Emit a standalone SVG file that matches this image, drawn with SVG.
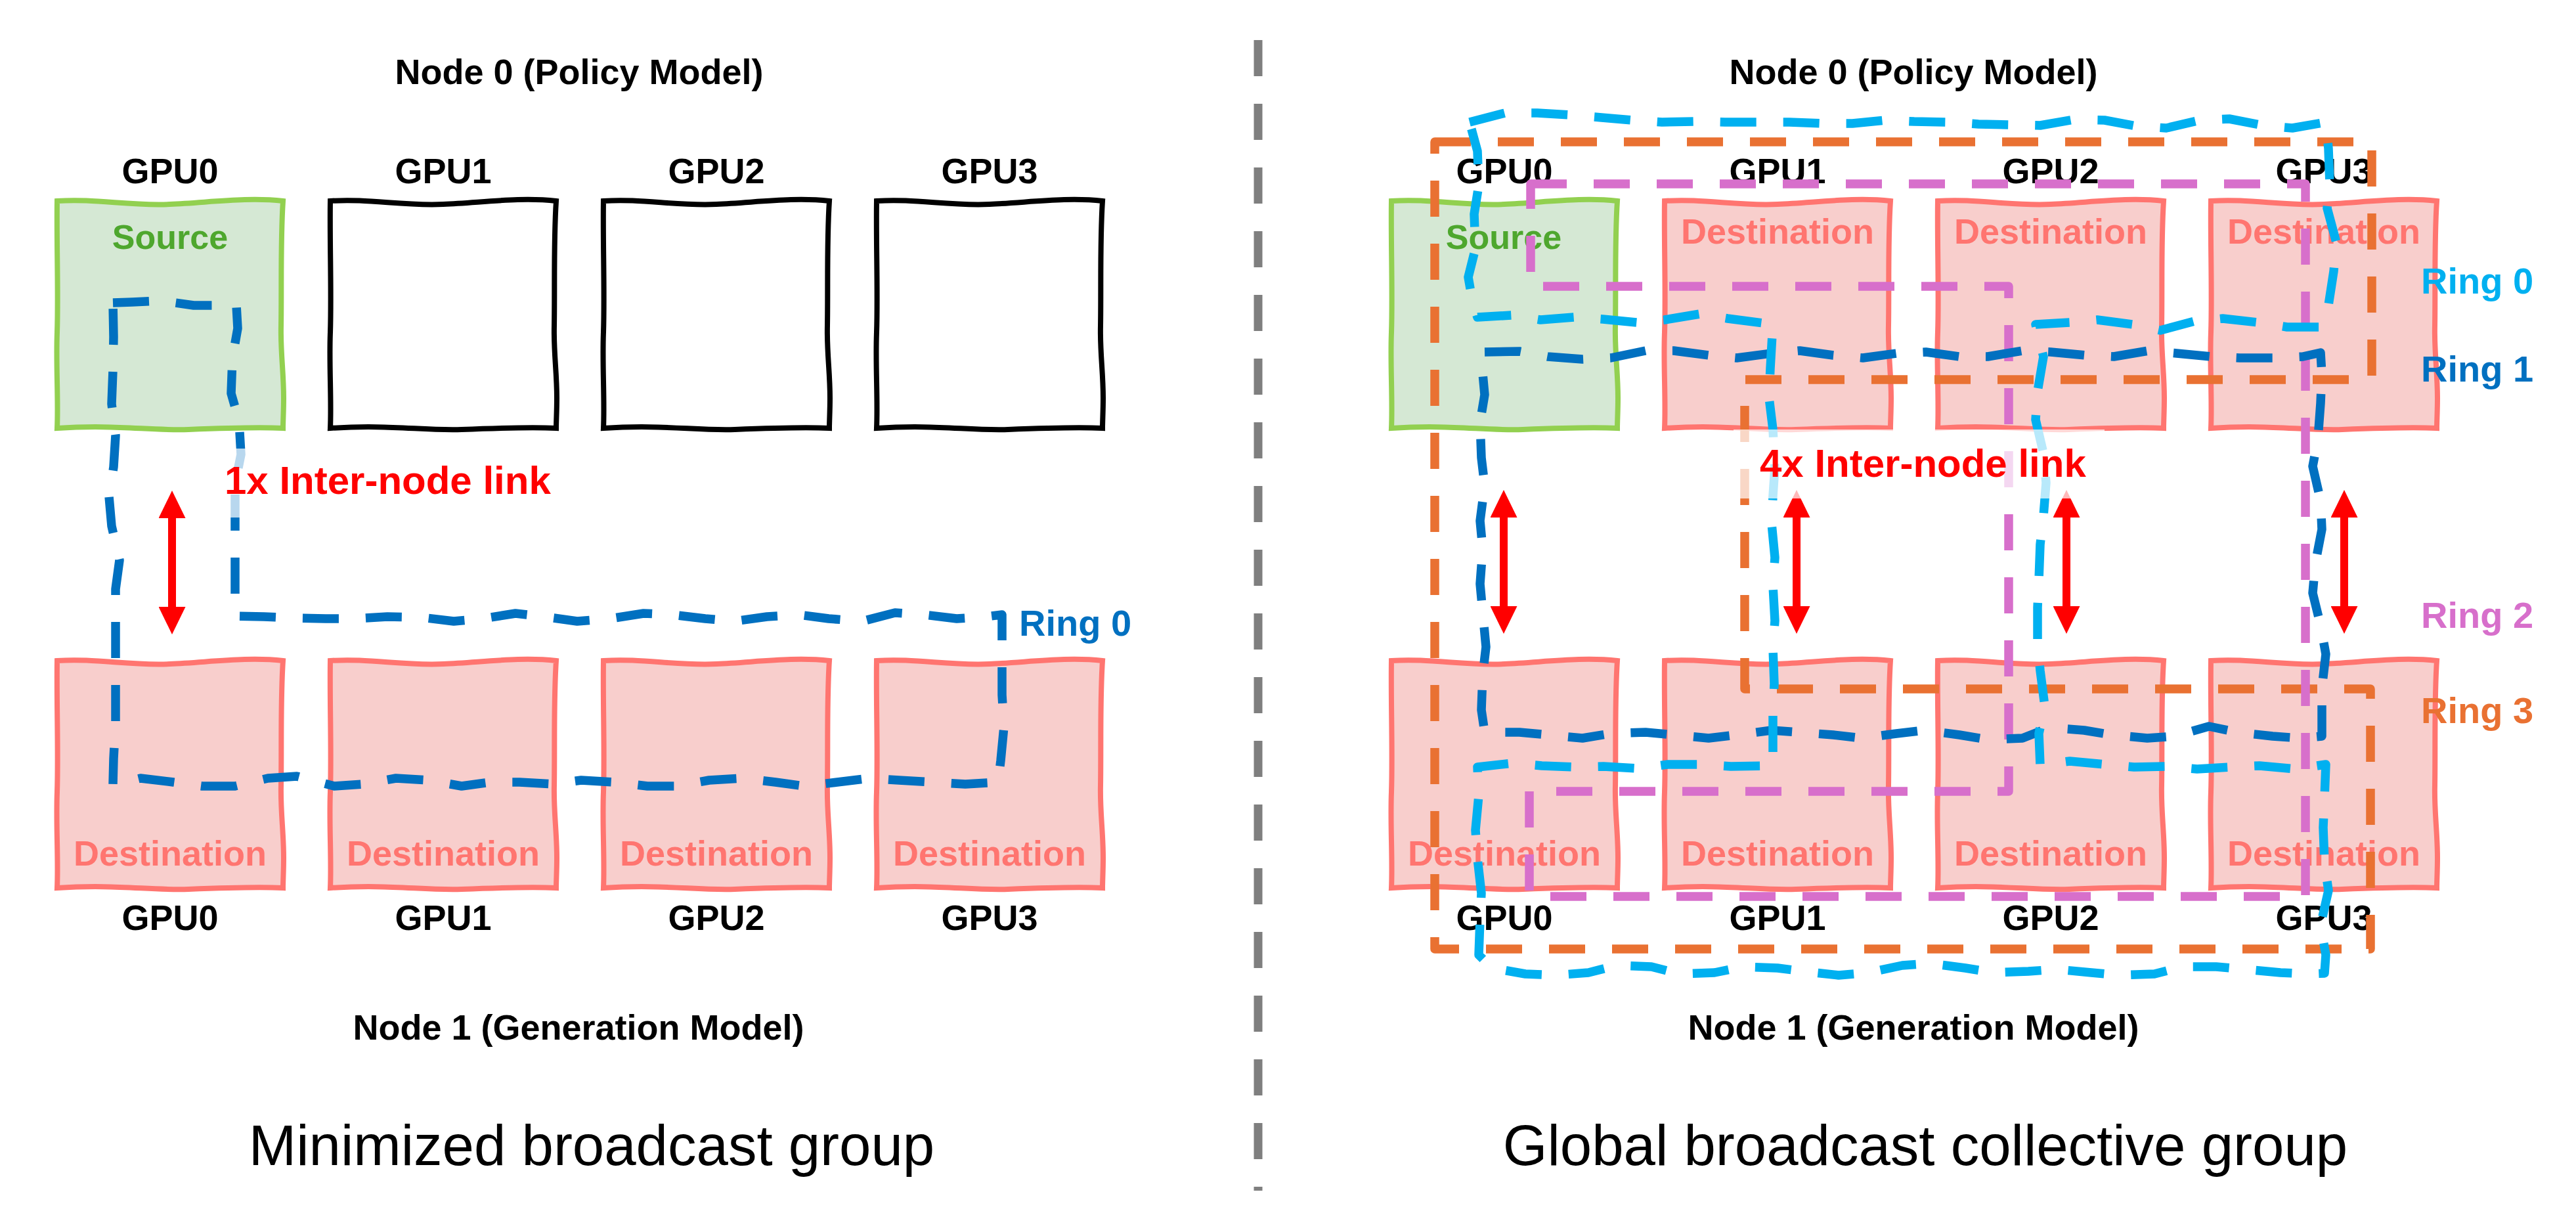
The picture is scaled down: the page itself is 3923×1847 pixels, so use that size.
<svg xmlns="http://www.w3.org/2000/svg" xmlns:xlink="http://www.w3.org/1999/xlink" width="3923" height="1847" viewBox="0 0 3923 1847">
<style>
.lbl{font-family:"Liberation Sans",Arial,sans-serif;font-weight:bold;}
.title{font-family:"Liberation Sans",Arial,sans-serif;font-size:87px;fill:#000;text-anchor:middle;}
.hdr{font-size:54px;fill:#000;text-anchor:middle;}
.gpu{font-size:54px;fill:#000;text-anchor:middle;}
.srcT{font-size:52px;fill:#4ea72e;text-anchor:middle;}
.dstT{font-size:54px;fill:#ff7570;text-anchor:middle;}
.ringT{font-size:56px;}
.linkT{font-size:60px;fill:#ff0000;}
.src{fill:#d5e8d4;stroke:#92d050;stroke-width:8;}
.dst{fill:#f8cecc;stroke:#ff7570;stroke-width:8;}
.emp{fill:#ffffff;stroke:#000000;stroke-width:8;}
.ring{fill:none;stroke-width:13.5;stroke-dasharray:55 41;stroke-linejoin:round;}
.r0{stroke:#00b0f0;}
.r1{stroke:#0070c0;}
.r2{stroke:#d76fcb;}
.r3{stroke:#e97132;}
.arr{stroke:#ff0000;stroke-width:12;marker-start:url(#ah);marker-end:url(#ah);}
.fade{fill:#ffffff;fill-opacity:0.72;}
</style>
<defs>
<path id="gpubox" d="M0,0 C60,-4 110,8 172,5 C235,2 290,-6 344,0 C340,60 342,130 341,190 C340,230 345,260 345,300 C345,320 344,335 344,346 C300,344 250,346 200,348 C140,350 90,340 0,346 C2,300 -2,250 0,200 C2,140 -1,60 0,0 Z"/>
<marker id="ah" markerUnits="userSpaceOnUse" markerWidth="42" markerHeight="41" viewBox="0 0 42 41" refX="12" refY="20.5" orient="auto-start-reverse">
<path d="M0,0 L42,20.5 L0,41 Z" fill="#ff0000"/>
</marker>
</defs>
<rect x="0" y="0" width="3923" height="1847" fill="#ffffff"/>

<!-- divider -->
<line id="divider" x1="1916" y1="61" x2="1916" y2="1813" stroke="#7f7f7f" stroke-width="13" stroke-dasharray="55 42"/>

<!-- LEFT PANEL -->
<g id="left-titles" class="lbl">
<text class="hdr" x="882" y="128">Node 0 (Policy Model)</text>
<text class="hdr" x="881" y="1583">Node 1 (Generation Model)</text>
</g>
<text class="title" x="901" y="1774">Minimized broadcast group</text>

<g id="L-n0-gpu0" class="lbl"><use xlink:href="#gpubox" x="87" y="306" class="src"/><text class="gpu" x="259" y="279">GPU0</text><text class="srcT" x="259" y="379">Source</text></g>
<g id="L-n0-gpu1" class="lbl"><use xlink:href="#gpubox" x="503" y="306" class="emp"/><text class="gpu" x="675" y="279">GPU1</text></g>
<g id="L-n0-gpu2" class="lbl"><use xlink:href="#gpubox" x="919" y="306" class="emp"/><text class="gpu" x="1091" y="279">GPU2</text></g>
<g id="L-n0-gpu3" class="lbl"><use xlink:href="#gpubox" x="1335" y="306" class="emp"/><text class="gpu" x="1507" y="279">GPU3</text></g>
<g id="L-n1-gpu0" class="lbl"><use xlink:href="#gpubox" x="87" y="1006" class="dst"/><text class="dstT" x="259" y="1318">Destination</text><text class="gpu" x="259" y="1416">GPU0</text></g>
<g id="L-n1-gpu1" class="lbl"><use xlink:href="#gpubox" x="503" y="1006" class="dst"/><text class="dstT" x="675" y="1318">Destination</text><text class="gpu" x="675" y="1416">GPU1</text></g>
<g id="L-n1-gpu2" class="lbl"><use xlink:href="#gpubox" x="919" y="1006" class="dst"/><text class="dstT" x="1091" y="1318">Destination</text><text class="gpu" x="1091" y="1416">GPU2</text></g>
<g id="L-n1-gpu3" class="lbl"><use xlink:href="#gpubox" x="1335" y="1006" class="dst"/><text class="dstT" x="1507" y="1318">Destination</text><text class="gpu" x="1507" y="1416">GPU3</text></g>

<!-- RIGHT PANEL -->
<g id="right-titles" class="lbl">
<text class="hdr" x="2914" y="128">Node 0 (Policy Model)</text>
<text class="hdr" x="2914" y="1583">Node 1 (Generation Model)</text>
</g>
<text class="title" x="2932" y="1774">Global broadcast collective group</text>

<g id="R-n0-gpu0" class="lbl"><use xlink:href="#gpubox" x="2119" y="306" class="src"/><text class="gpu" x="2291" y="279">GPU0</text><text class="srcT" x="2290" y="379">Source</text></g>
<g id="R-n0-gpu1" class="lbl"><use xlink:href="#gpubox" x="2535" y="306" class="dst"/><text class="gpu" x="2707" y="279">GPU1</text><text class="dstT" x="2707" y="371">Destination</text></g>
<g id="R-n0-gpu2" class="lbl"><use xlink:href="#gpubox" x="2951" y="306" class="dst"/><text class="gpu" x="3123" y="279">GPU2</text><text class="dstT" x="3123" y="371">Destination</text></g>
<g id="R-n0-gpu3" class="lbl"><use xlink:href="#gpubox" x="3367" y="306" class="dst"/><text class="gpu" x="3539" y="279">GPU3</text><text class="dstT" x="3539" y="371">Destination</text></g>
<g id="R-n1-gpu0" class="lbl"><use xlink:href="#gpubox" x="2119" y="1006" class="dst"/><text class="dstT" x="2291" y="1318">Destination</text><text class="gpu" x="2291" y="1416">GPU0</text></g>
<g id="R-n1-gpu1" class="lbl"><use xlink:href="#gpubox" x="2535" y="1006" class="dst"/><text class="dstT" x="2707" y="1318">Destination</text><text class="gpu" x="2707" y="1416">GPU1</text></g>
<g id="R-n1-gpu2" class="lbl"><use xlink:href="#gpubox" x="2951" y="1006" class="dst"/><text class="dstT" x="3123" y="1318">Destination</text><text class="gpu" x="3123" y="1416">GPU2</text></g>
<g id="R-n1-gpu3" class="lbl"><use xlink:href="#gpubox" x="3367" y="1006" class="dst"/><text class="dstT" x="3539" y="1318">Destination</text><text class="gpu" x="3539" y="1416">GPU3</text></g>

<!-- connectors -->
<g id="connectors">
<polygon id="L-ring0" class="ring r1" points="172,461 201,460 245,458 295,465 339,465 360,465 362,500 354,545 352,599 364,641 367,692 358,737 358,788 358,833 358,888 358,938 402,939 446,941 496,942 540,942 590,939 641,940 691,946 735,942 785,934 829,939 879,946 929,942 980,934 1024,936 1074,942 1118,946 1168,939 1216,936 1262,942 1313,946 1363,933 1407,936 1457,942 1501,939 1526,936 1526,1009 1526,1058 1529,1106 1524,1158 1520,1191 1470,1194 1419,1191 1369,1188 1325,1185 1275,1191 1225,1197 1181,1191 1130,1185 1080,1188 1030,1197 986,1197 936,1191 885,1188 842,1194 791,1191 747,1191 703,1197 653,1188 603,1185 553,1194 509,1197 452,1182 408,1185 358,1197 308,1197 264,1191 214,1185 172,1195 173,1155 176,1100 176,1052 176,997 176,930 176,897 182,853 170,801 166,756 173,711 176,663 170,615 172,564 173,513"/>
<line id="L-link" class="arr" x1="262" y1="777" x2="262" y2="936"/>

<path id="R-ring3" class="ring r3" d="M2185,216 L3612,216 L3612,578 L2657,578 L2657,1049 L3610,1049 L3610,1445 L2185,1445 Z"/>
<path id="R-ring2" class="ring r2" d="M2331,280 L3511,280 L3511,1365 L2329,1365 L2329,1205 L3059,1205 L3059,436 L2331,436 Z"/>
<polygon id="R-ring1" class="ring r1" points="2261,536 2314,535 2357,543 2410,547 2453,545 2506,534 2549,534 2602,541 2645,545 2698,538 2741,534 2792,541 2837,545 2888,538 2933,536 2984,543 3027,543 3080,534 3123,536 3176,541 3219,543 3272,534 3315,538 3368,543 3411,545 3465,545 3507,543 3534,537 3536,570 3534,614 3530,668 3522,710 3534,762 3536,806 3526,858 3522,903 3534,952 3542,996 3536,1048 3536,1092 3536,1121 3503,1124 3461,1121 3407,1115 3364,1106 3312,1121 3270,1124 3216,1119 3174,1112 3121,1108 3080,1124 3027,1126 2984,1119 2931,1112 2888,1117 2835,1124 2792,1119 2738,1115 2698,1112 2645,1119 2602,1124 2549,1119 2506,1115 2453,1117 2410,1124 2357,1119 2314,1115 2261,1115 2256,1081 2258,1028 2263,985 2258,932 2254,889 2258,836 2254,793 2261,739 2256,697 2254,643 2261,601 2256,547"/>
<polygon id="R-ring0" class="ring r0" points="2238,186 2292,172 2341,172 2390,175 2439,179 2486,183 2531,186 2582,185 2627,186 2676,186 2725,186 2774,188 2821,188 2871,183 2915,185 2969,186 3013,189 3062,190 3107,191 3158,182 3205,183 3254,192 3299,195 3350,183 3395,181 3447,191 3491,195 3542,186 3546,226 3548,279 3544,317 3558,369 3554,413 3546,465 3534,498 3483,498 3439,491 3385,485 3342,489 3290,503 3248,494 3194,487 3152,491 3100,494 3112,543 3103,596 3100,639 3112,690 3116,735 3112,786 3107,829 3105,883 3103,925 3103,979 3107,1021 3114,1075 3105,1117 3107,1165 3152,1159 3205,1164 3250,1168 3301,1167 3346,1171 3397,1168 3441,1166 3495,1171 3542,1164 3540,1215 3538,1260 3540,1313 3546,1356 3534,1409 3542,1454 3540,1482 3517,1483 3473,1481 3419,1476 3375,1472 3324,1472 3281,1483 3228,1485 3185,1481 3132,1476 3089,1479 3036,1481 2993,1474 2940,1467 2897,1470 2846,1481 2800,1485 2747,1479 2707,1474 2654,1472 2611,1481 2558,1483 2515,1472 2462,1470 2419,1481 2368,1485 2323,1483 2272,1474 2252,1454 2254,1400 2256,1360 2250,1307 2247,1264 2252,1211 2250,1168 2303,1162 2348,1166 2397,1168 2442,1167 2495,1170 2540,1164 2591,1164 2636,1167 2700,1166 2700,1139 2700,1086 2702,1041 2700,987 2703,945 2700,892 2703,849 2698,797 2700,755 2703,712 2700,654 2694,605 2696,561 2700,492 2685,492 2631,485 2589,478 2535,487 2493,491 2441,486 2397,483 2346,487 2303,480 2250,483 2243,462 2236,422 2247,378 2245,326 2252,282 2250,230"/>
<line id="R-link0" class="arr" x1="2290" y1="776" x2="2290" y2="935"/>
<line id="R-link1" class="arr" x1="2736" y1="776" x2="2736" y2="935"/>
<line id="R-link2" class="arr" x1="3147" y1="776" x2="3147" y2="935"/>
<line id="R-link3" class="arr" x1="3570" y1="776" x2="3570" y2="935"/>
</g>

<!-- link labels with translucent background -->
<g id="L-link-label" class="lbl">
<rect class="fade" x="300" y="683" width="580" height="105"/>
<text class="linkT" x="342" y="752">1x Inter-node link</text>
</g>
<g id="R-link-label" class="lbl">
<rect class="fade" x="2640" y="654" width="565" height="105"/>
<text class="linkT" x="2680" y="726">4x Inter-node link</text>
</g>

<!-- ring labels -->
<g id="ring-labels" class="lbl">
<text class="ringT" x="1552" y="968" fill="#0070c0">Ring 0</text>
<text class="ringT" x="3687" y="447" fill="#00b0f0">Ring 0</text>
<text class="ringT" x="3687" y="581" fill="#0070c0">Ring 1</text>
<text class="ringT" x="3687" y="956" fill="#d76fcb">Ring 2</text>
<text class="ringT" x="3687" y="1101" fill="#e97132">Ring 3</text>
</g>
</svg>
